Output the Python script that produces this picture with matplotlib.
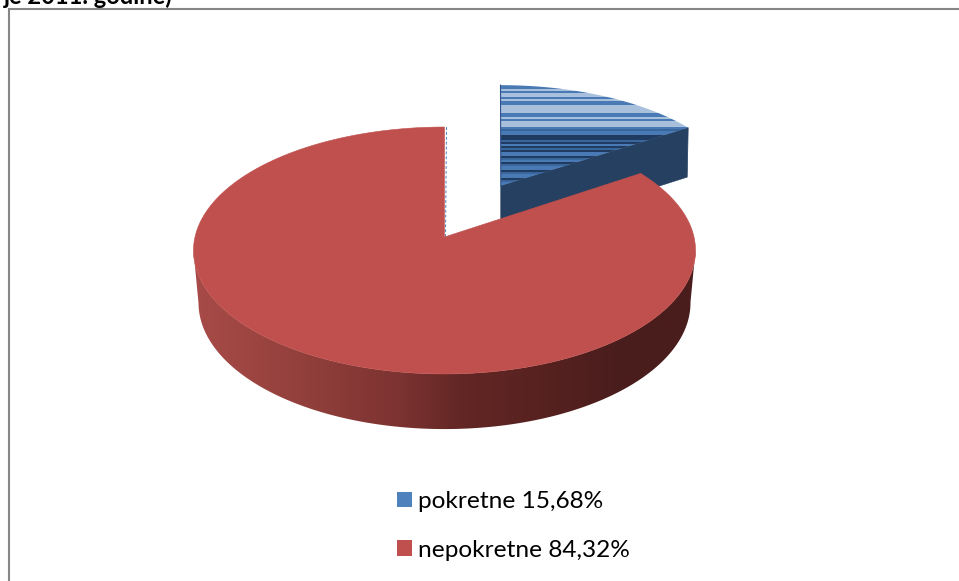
import matplotlib
matplotlib.use("Agg")
import matplotlib.pyplot as plt
import numpy as np
from matplotlib.colors import LinearSegmentedColormap
from matplotlib.patches import Patch, Polygon

labels = ["pokretne", "nepokretne"]
shares = [15.68, 84.32]
title_tail = "je 2011. godine)"

blue = "#4f81bd"
red = "#c0504d"
blue_side = "#254061"

# 3d pie projection
cx, cy = 444.5, 237
rx, ry = 249.5, 122
persp = 0.1093
depth = 52
explode = 0.5
blue_lean = 0.05

# stripe texture of the blue slice, one letter per 2 px row
stripe_rows = "MMLMLLMLMMLLLLMMLMLLLMSM" + "MDDSDMDSDMMDSMDSMMDSMMDSMM"
stripe_colors = {"L": "#a8c0dc", "M": "#4a7ab5", "S": "#3a669e", "D": "#1f3b60"}

side_stops = [(0.0, "#a84b48"), (0.21, "#93403c"), (0.41, "#7c3331"), (0.53, "#632725"),
              (0.69, "#572220"), (0.85, "#4a1d1d"), (1.0, "#4a1d1d")]


def project(theta, r=1.0, off=(0.0, 0.0)):
    u = r * np.sin(theta) + off[0]
    v = r * np.cos(theta) + off[1]
    w = 1 + persp * v
    return cx + rx * u / w, cy - ry * v / w, w


def wedge(start, end, off=(0.0, 0.0)):
    t = np.radians(np.linspace(start, end, 300))
    x, y, w = project(t, off=off)
    ax0, ay0, _ = project(0.0, r=0.0, off=off)
    return x, y, w, (ax0, ay0)


fig = plt.figure(figsize=(9.59, 5.81), dpi=100)
ax = fig.add_axes([0, 0, 1, 1])

# chart frame, right and bottom sides are cut off in the source
ax.plot([8.5, 8.5, 959], [581, 8.8, 8.8], color="#868686", lw=1.5, solid_joinstyle="miter")

ax.text(173, 4, title_tail, ha="right", va="baseline", fontsize=17, fontweight="bold",
        family="Lato", color="black")

blue_end = shares[0] / sum(shares) * 360
mid = np.radians(blue_end / 2)
offset = (explode * np.sin(mid), explode * np.cos(mid))

# blue slice
bx, by, bw, bapex = wedge(0, blue_end, offset)
bx = bx + blue_lean * (bapex[1] - by)
bend = (bx[-1], by[-1], bw[-1])
apex_w = 1 + persp * offset[1]
cut = [bapex, (bend[0], bend[1]),
       (bend[0] - 1, bend[1] + depth / np.sqrt(bend[2])),
       (bapex[0], bapex[1] + depth / np.sqrt(apex_w))]
ax.add_patch(Polygon(cut, closed=True, fc=blue_side, ec=blue_side, lw=0.5))

rows = np.array([matplotlib.colors.to_rgb(stripe_colors[c]) for c in stripe_rows]).reshape(-1, 1, 3)
blue_top = Polygon(list(zip(bx, by)) + [bapex], closed=True, fc="none", ec="none", transform=ax.transData)
ax.add_patch(blue_top)
img = ax.imshow(rows, extent=[bx.min(), bx.max() + 2, bapex[1], by.min()], aspect="auto",
                interpolation="nearest", zorder=1.5)
img.set_clip_path(blue_top)
ax.plot([bapex[0], bx[0]], [bapex[1], by[0]], color="#2f5588", lw=0.8, zorder=1.6)

# red slice, wall first and then the top face over it
rx_, ry_, rw, rapex = wedge(blue_end, 360)
shift = depth / np.sqrt(rw)
low_x = cx + (rx_ - cx) * 0.98
# only the front of the wall shows, from the rightmost to the leftmost point
i0, i1 = np.argmax(rx_), np.argmin(rx_)
wall = list(zip(rx_[i0:i1 + 1], ry_[i0:i1 + 1])) + list(zip(low_x[i0:i1 + 1][::-1], (ry_ + shift)[i0:i1 + 1][::-1]))
wall_patch = Polygon(wall, closed=True, fc="none", ec="none", zorder=2)
ax.add_patch(wall_patch)
side_cmap = LinearSegmentedColormap.from_list("side", side_stops)
grad = ax.imshow(np.linspace(0, 1, 256).reshape(1, -1), cmap=side_cmap, aspect="auto",
                 extent=[rx_.min(), rx_.max(), ry_.max() + 60, ry_.min()], zorder=2)
grad.set_clip_path(wall_patch)

ax.add_patch(Polygon(list(zip(rx_, ry_)) + [rapex], closed=True, fc=red, ec=red, lw=0.4, zorder=3))
ax.plot([rapex[0] + 1, rx_[-1] + 2], [rapex[1], ry_[-1]], color=blue, lw=0.7, ls=(0, (3, 2)), zorder=2.5)

handles = [Patch(fc=blue, ec="none"), Patch(fc=red, ec="none")]
names = [f"{n} {str(v).replace('.', ',')}%" for n, v in zip(labels, shares)]
leg = ax.legend(handles, names, loc="center left", bbox_to_anchor=(375, 526),
                bbox_transform=ax.transData, frameon=False,
                prop={"family": "Lato", "size": 17.6}, labelcolor="black",
                handlelength=0.61, handleheight=0.61, handletextpad=0.25, labelspacing=1.14)

ax.set_xlim(0, 959)
ax.set_ylim(581, 0)
ax.axis("off")

fig.savefig("out.png", dpi=100)
